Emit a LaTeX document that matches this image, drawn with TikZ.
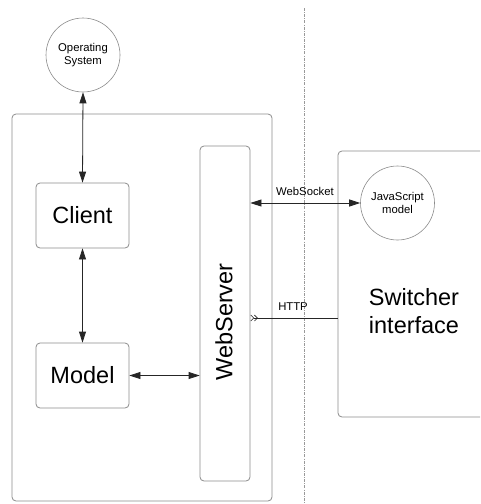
\documentclass[tikz,border=0pt]{standalone}
\usepackage{fontspec}
\setmainfont{Liberation Sans}
\usetikzlibrary{arrows.meta}
\tikzset{
  box/.style={draw=black!45, line width=0.8pt, rounded corners=4pt, inner sep=0pt},
  roundnode/.style={draw=black!45, line width=0.6pt, circle, minimum size=74pt, inner sep=0pt, align=center, font=\fontsize{11.3}{13}\selectfont},
  big/.style={font=\fontsize{23.5}{28}\selectfont},
  small/.style={font=\fontsize{11.3}{13}\selectfont, inner sep=0pt},
  arr/.style={line width=0.8pt, black!85, {Triangle[length=11pt,width=7pt]}-{Triangle[length=11pt,width=7pt]}},
  sep/.style={draw=black!40, line width=0.6pt, dash pattern=on 3pt off 1.2pt on 0.8pt off 1.2pt}
}
\begin{document}
\begin{tikzpicture}[x=1pt,y=-1pt]
\clip (0,0) rectangle (480,504);
\fill[white] (0,0) rectangle (480,504);
% separator
\coordinate (dtop) at (304,8);
\coordinate (dbot) at (304,504);
\draw[sep] (dtop) -- (dbot);
% boxes
\node[box, minimum width=260pt, minimum height=387pt] (outer) at (142,307.5) {};
\node[box, minimum width=93pt, minimum height=65pt, big] (client) at (82.5,215.5) {Client};
\node[box, minimum width=93pt, minimum height=65pt, big] (model) at (82.5,375.5) {Model};
\node[box, minimum width=50pt, minimum height=335pt] (ws) at (225,313.5) {};
\node[big, rotate=90, inner sep=0pt] (wslabel) at (224,322) {WebServer};
\node[box, minimum width=162pt, minimum height=266pt] (right) at (419,284) {};
\node[big, align=center, inner sep=0pt] (sw) at (414,311) {Switcher\\interface};
\node[roundnode] (os) at (83,55) {Operating\\System};
\node[roundnode] (js) at (397.5,203) {JavaScript\\model};
% connectors
\draw[arr] (os.south) -- (client.north);
\draw[arr] (client.south) -- (model.north);
\draw[arr] (model.east) -- (model.east -| ws.west);
\draw[arr] (js.west -| ws.east) -- (js.west);
\node[small] (wsock) at (305,191) {WebSocket};
\coordinate (httpy) at (0,318);
\draw[line width=0.8pt, black!85, {Straight Barb[reversed,length=3pt,width=6pt,line width=0.6pt]Straight Barb[reversed,length=3pt,width=6pt,line width=0.6pt]}-] (httpy -| ws.east) -- (httpy -| right.west);
\node[small] (http) at (293,307) {HTTP};
\end{tikzpicture}
\end{document}
